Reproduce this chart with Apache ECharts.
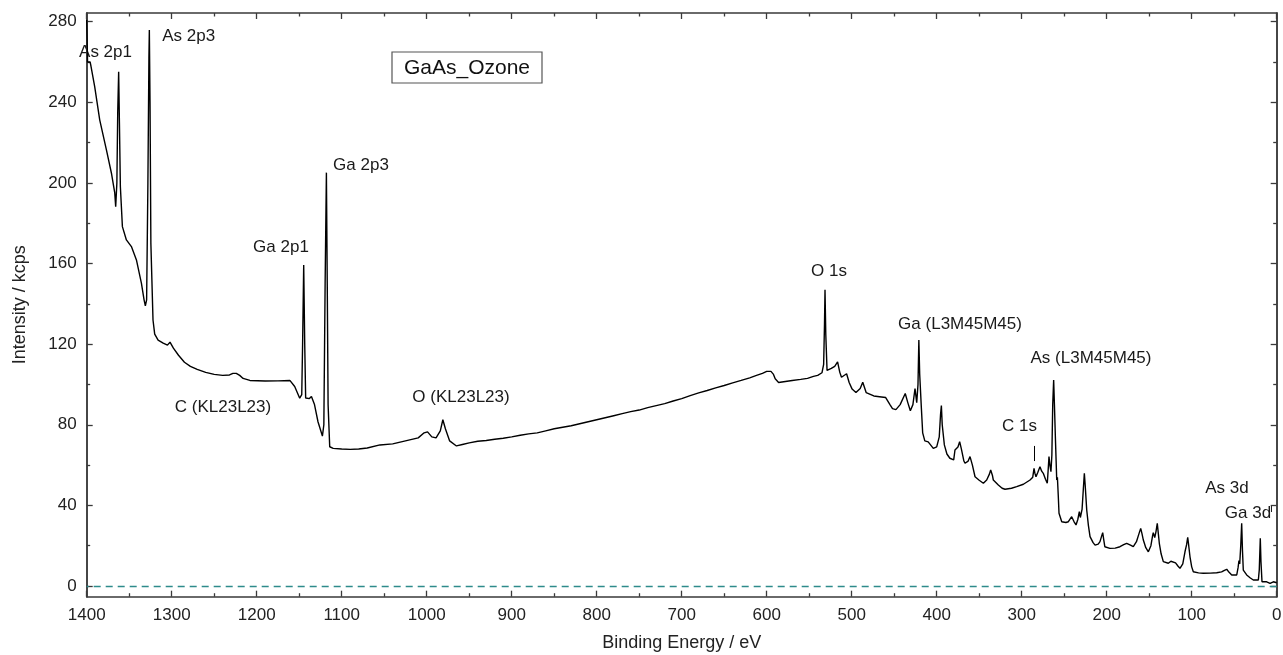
<!DOCTYPE html>
<html><head><meta charset="utf-8">
<script src="https://cdn.jsdelivr.net/npm/echarts@6/dist/echarts.min.js"></script>
<style>html,body{margin:0;padding:0;background:#fff}#c{width:1283px;height:655px}</style>
</head><body><div id="c"></div><script>
// ---- data (binding energy in eV, intensity in kcps) ----
const energy = [
1400,1399.5,1399,1396,1395,1390.6,1384.7,1376.8,1370.9,1367,1365.9,1364.5,1363.5,1362.4,1361.5,1360.4,1358,1353.3,1347.4,1341.5,1335.6,1332.5,1331,1329.5,1328,1326.8,1326.3,1325.5,1324.5,1322,
1320,1316,1310,1305,1302,1298,1292,1285,1278,1270,1260,1250,1240,1232,1228,1224,1220,1216,1208,1190,1175,1161,1155.3,1149.4,1147,1146,1144.7,1143.5,1142.4,1138,
1135.6,1132,1127.9,1122.7,1121,1119.5,1118,1117,1116,1114.1,1110,1100,1090,1080,1070,1055,1040,1030,1020,1010,1003,999,994,989,984,981,978,973,965,958,
950,940,930,920,910,900,890,880,870,860,850,840,830,820,810,800,790,780,770,760,750,740,730,720,710,700,690,680,670,660,
650,640,630,620,612,605,600,595,592,590,586,584,578,570,560,552,545,540,535,533,532,531.4,530.5,529,524,520,516.6,514,512,506,
503,499.5,495,490,487,483,474,465,460,455,452,448,443,437,434,431,428,425.5,423.5,422,421,420,418,416.5,414,410,404,400,397,395.5,
394.5,393.5,391,388,384.5,380,378.5,375,373,371,368,366.7,363,360.8,358,354.9,350,345.1,341.2,338,336.5,334.5,333.4,327.5,323,319.6,312,305.9,298,290.2,
287,285.5,284.5,283.2,281,278.5,276.5,274.6,272,269.9,268.8,267.9,266.8,265.6,264.5,263.5,262.4,261.5,260.4,259.5,258.8,258,257,256.1,252.9,248,245.1,241.2,238.5,236.1,
234,232.2,231,229,227.5,226.3,225.3,223.5,221.5,219.6,216,213.7,210,207.9,205.8,204.7,203.5,202.2,196.2,190,184.4,180,176.5,172,168.7,165,162,160,158.5,156.9,
154,151,148,146,145.2,143.5,142,140.5,139.5,138.1,136,133.4,127.5,124.5,122.4,119,116,113.8,110.5,107.9,106,104.7,103.5,102,100,98.1,92,86.4,78,70.6,
64.8,61.5,58.8,56,52.9,47,45.5,44.4,43.5,42.3,41.2,40.3,39.3,35.3,31,27.5,21.6,20.5,19.3,18.5,17.3,15,11.8,7.8,3.9,1.9,0
];
const intensity = [
281,271,260,260,258,247.8,231.3,216.4,204.8,195,188.2,200,235,255.2,230,198.2,178.3,171.7,168.4,161.8,150.2,142,139,142,200,262,275.9,240,170,132,
125,122,120.5,119.5,121,118,114.5,111,109,107.5,106,105,104.5,104.7,105.5,105.5,104.5,103,102,101.7,101.8,102,99,93.2,95,120,159.3,120,93.3,93,
94,90,81.5,74.4,80,150,205.1,150,90,69.1,68.3,68,67.8,68,68.5,70,70.5,71.5,72.5,73.5,76,76.5,74,73.5,77,82.5,78,72,69.5,70.2,
71,71.8,72.2,72.8,73.3,74,74.8,75.5,76,77,78,78.8,79.5,80.5,81.5,82.5,83.5,84.5,85.5,86.5,87.3,88.5,89.5,90.5,91.8,93,94.5,95.8,97,98.3,
99.5,100.8,102,103.3,104.5,105.5,106.5,106.5,105,102.8,101,100.5,101.5,102,102.5,103,104,104.5,105.8,110,130,147,125,107,108,109,111.2,106,103.6,105.3,
101,97.7,96,98,101.1,96,94.3,93.8,93.5,90,88,87.5,90,95.5,91,87,90,98,91,100,122,105,88,76,72,71.5,68.3,69,74,85,
89.5,80,70,65.5,63.4,62.6,67.5,69,71.6,68,62,60.9,62,64.2,60,54.2,52.5,51,52.6,55.5,57.6,55,52.6,50.1,48.5,48,48.5,49.3,50.5,52.6,
54,58.4,56,54.2,56.5,59.2,57,55.9,53,51,58,64.2,60,56.7,65,90,102.2,90,74.1,62,52.6,54,45,36.1,31.9,31.5,31.9,34.4,32,30.3,
33,36.9,34,38,48,55.9,50,37.7,30,24.5,21.5,20.3,20.8,22,25,26.5,23,19.5,18.7,18.8,19.5,20.5,21.2,20.3,19.5,22,26,28.6,26,22.8,
19,17,20,25,26.5,24,27,31.1,27,21.2,16,12.1,11.3,12.3,12.9,11.5,9.8,8.8,11,17,20.5,24.2,20,14.5,9.5,7.1,6.5,6.3,6.4,6.6,
7,7.8,8.3,6.8,5.5,5.5,9,12.6,11,20,31.1,18,7.9,5.5,4,3,3,8,23.7,12,2.1,1.3,2.1,1.3,2.1,1.3,1.6
];
const yTickValues = [0, 40, 80, 120, 160, 200, 240, 280];
const yMinorValues = [20, 60, 100, 140, 180, 220, 260];
const xRange = [0, 1400];
const yRange = [-5.3, 284.3];
const xTitle = 'Binding Energy / eV';
const yTitle = 'Intensity / kcps';
const sampleName = 'GaAs_Ozone';
const peakNames = ['As 2p1','As 2p3','Ga 2p1','Ga 2p3','C (KL23L23)','O (KL23L23)','O 1s','Ga (L3M45M45)','As (L3M45M45)','C 1s','As 3d','Ga 3d'];
const c1sMarker = [[285.5, 62], [285.5, 69.5]];

// ---- layout ----
const labelPos = [[105.5,52],[188.7,36],[281,247],[361,165],[223,407],[461,397],[829,271],[960,324],[1091,358],[1019.5,426],[1227,488],[1248,513]];
const font = '"Liberation Sans", Arial, sans-serif';
const axisColor = '#3a3a3a';
const gridBox = {left: 86.7, right: 6.3, top: 13, bottom: 58.3, containLabel: false, outerBoundsMode: 'none'};

const pts = energy.map((e, i) => [e, intensity[i]]);
const chart = echarts.init(document.getElementById('c'), null, {renderer: 'canvas'});

function yAx(g, pos, values, len, showLabel, name) {
  return {
    gridIndex: g, type: 'value', position: pos, min: yRange[0], max: yRange[1],
    name: name || '', nameLocation: 'middle', nameGap: 58,
    nameTextStyle: {fontFamily: font, fontSize: 18, color: '#222'},
    axisLine: {show: true, onZero: false, lineStyle: {color: axisColor, width: 1.5}},
    axisTick: {show: true, inside: true, length: len, customValues: values, lineStyle: {color: axisColor, width: 1.3}},
    axisLabel: {show: showLabel, customValues: values, fontFamily: font, fontSize: 17, color: '#222', margin: 10},
    splitLine: {show: false}
  };
}
function xAx(g, pos, showAll, showLabel, name) {
  return {
    gridIndex: g, show: showAll, type: 'value', position: pos, min: xRange[0], max: xRange[1], interval: 100, inverse: true,
    name: name || '', nameLocation: 'middle', nameGap: 37,
    nameTextStyle: {fontFamily: font, fontSize: 18, color: '#222'},
    axisLine: {show: true, onZero: false, lineStyle: {color: axisColor, width: 1.5}},
    axisTick: {show: true, inside: true, length: 6, lineStyle: {color: axisColor, width: 1.3}},
    minorTick: {show: true, splitNumber: 2, length: 3.5, lineStyle: {color: axisColor, width: 1.3}},
    axisLabel: {show: showLabel, fontFamily: font, fontSize: 17, color: '#222', margin: 10, formatter: v => String(v)},
    splitLine: {show: false}
  };
}

const graphics = peakNames.map((t, i) => ({
  type: 'text', x: labelPos[i][0], y: labelPos[i][1], silent: true,
  style: {text: t, fontFamily: font, fontSize: 17, fill: '#1a1a1a', align: 'center', verticalAlign: 'middle'}
}));
graphics.push({type: 'line', shape: {x1: 1271.5, y1: 506, x2: 1271.5, y2: 512}, style: {stroke: '#222', lineWidth: 1}});
graphics.push({type: 'rect', shape: {x: 392, y: 52, width: 150, height: 31},
  style: {fill: '#fff', stroke: '#555', lineWidth: 1.2}, z: 10});
graphics.push({type: 'text', x: 467, y: 68, z: 11,
  style: {text: sampleName, fontFamily: font, fontSize: 21, fill: '#111', align: 'center', verticalAlign: 'middle'}});

chart.setOption({
  animation: false,
  backgroundColor: '#fff',
  grid: [gridBox, gridBox, gridBox, gridBox],
  xAxis: [xAx(0, 'bottom', true, true, xTitle), xAx(1, 'top', true, false), xAx(2, 'bottom', false, false), xAx(3, 'bottom', false, false)],
  yAxis: [yAx(0, 'left', yTickValues, 6, true, yTitle), yAx(1, 'right', yTickValues, 6, false),
          yAx(2, 'left', yMinorValues, 3.5, false), yAx(3, 'right', yMinorValues, 3.5, false)],
  series: [{
    type: 'line', xAxisIndex: 0, yAxisIndex: 0, data: pts, showSymbol: false, symbol: 'none',
    lineStyle: {color: '#000', width: 1.4}, silent: true, z: 5,
    markLine: {
      silent: true, symbol: 'none', label: {show: false},
      data: [
        [{coord: c1sMarker[0], lineStyle: {color: '#000', width: 1, type: 'solid'}}, {coord: c1sMarker[1]}],
        {yAxis: 0, lineStyle: {color: '#2e8b8b', width: 1.3, type: [7, 5]}}
      ]
    }
  }],
  graphic: graphics
});
</script></body></html>
